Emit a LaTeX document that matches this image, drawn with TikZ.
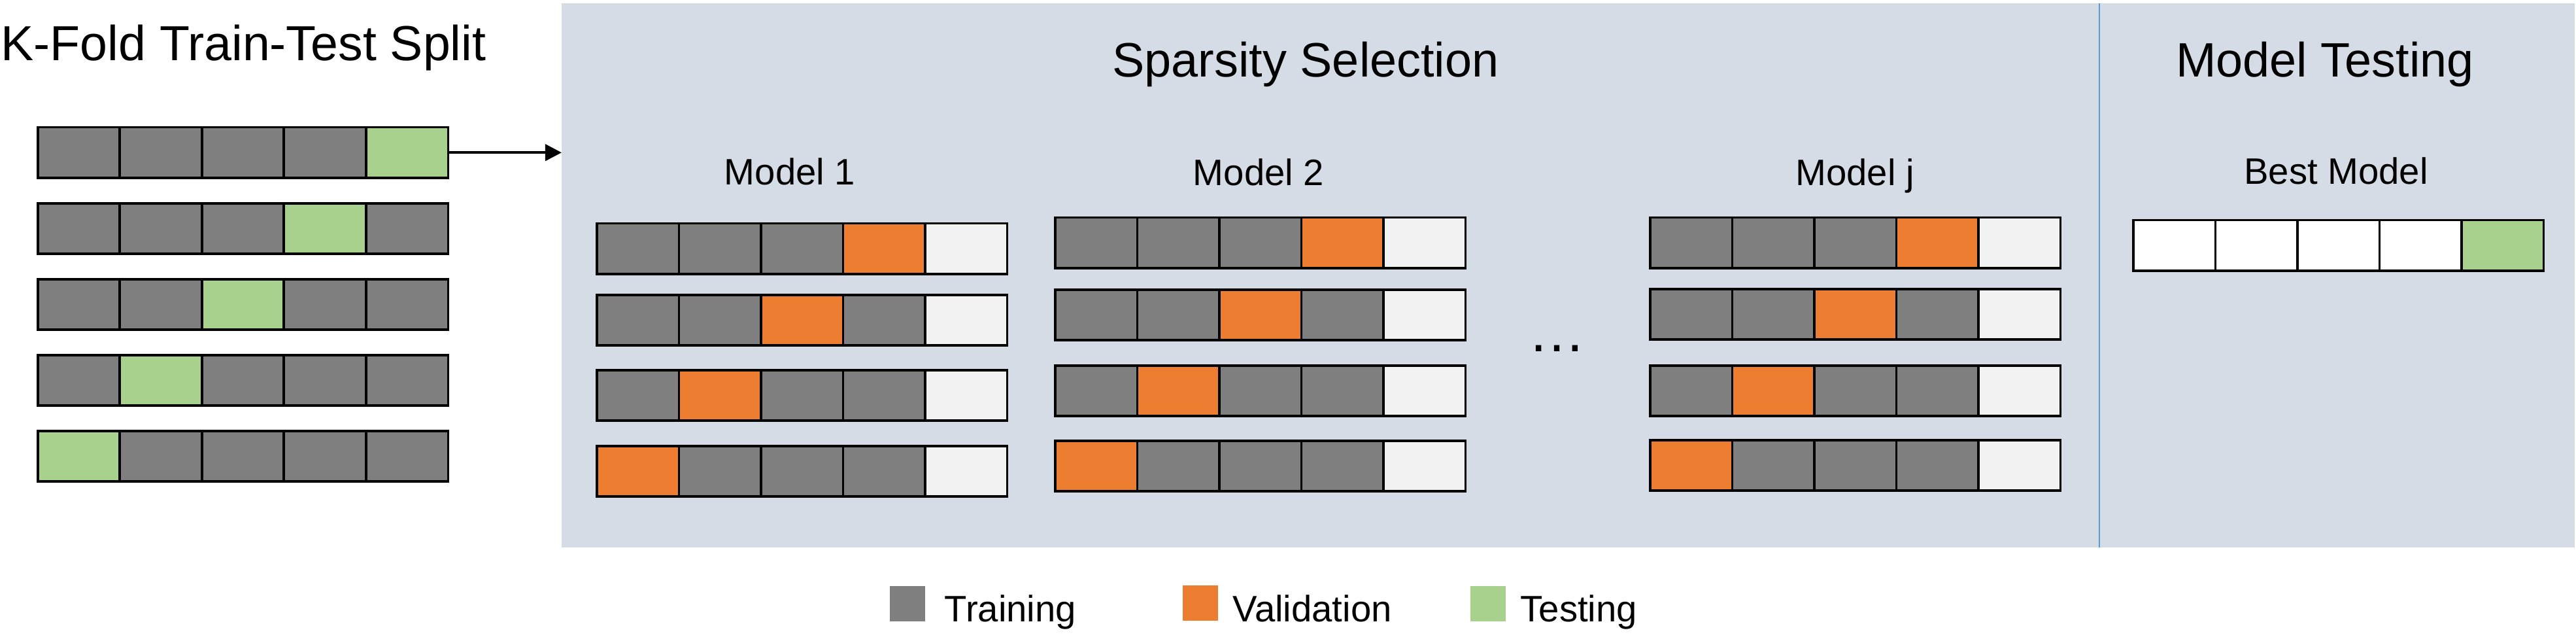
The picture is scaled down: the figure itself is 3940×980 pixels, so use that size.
\documentclass[tikz,border=0pt]{standalone}
\usepackage{fontspec}
\setmainfont{Liberation Sans}
\usetikzlibrary{arrows.meta}
\definecolor{trainc}{HTML}{7F7F7F}
\definecolor{valc}{HTML}{ED7D31}
\definecolor{testc}{HTML}{A9D18E}
\definecolor{restc}{HTML}{F2F2F2}
\definecolor{panelc}{HTML}{D6DCE5}
\definecolor{divc}{HTML}{5B9BD5}
\newcommand\cellrow[4]{%
  \foreach \c [count=\i] in {#4} {
    \node[cell, fill=\c] (#1c\i) at ({#2+(\i-1)*125.5},{#3}) {};
  }}
\begin{document}
\begin{tikzpicture}[x=0.01cm, y=-0.01cm,
  cell/.style={draw=black, line width=1pt, minimum width=1.255cm, minimum height=0.77cm,
    inner sep=0pt, outer sep=0pt, anchor=north west},
  panelbox/.style={fill=panelc, draw=none, inner sep=0pt, outer sep=0pt},
  titletext/.style={font=\fontsize{21}{25}\selectfont, inner sep=0pt},
  bigtitle/.style={font=\fontsize{21.4}{25}\selectfont, inner sep=0pt},
  labtext/.style={font=\fontsize{16}{19}\selectfont, inner sep=0pt},
  dotstext/.style={font=\fontsize{25}{30}\selectfont, inner sep=0pt},
  legbox/.style={draw=none, minimum width=0.54cm, minimum height=0.54cm, inner sep=0pt, anchor=north west},
  arr/.style={line width=1.2pt, -{Triangle[length=0.25cm, width=0.25cm]}},
  divline/.style={draw=divc, line width=0.45pt}]
\useasboundingbox (0,0) rectangle (3940,980);
% background panel
\node[panelbox, anchor=north west, minimum width=30.77cm, minimum height=8.32cm] (panel) at (859,5) {};
\coordinate (divtop) at (3211,5);
\coordinate (divbot) at (3211,837);
\draw[divline] (divtop) -- (divbot);
% titles
\node[bigtitle, anchor=base west] (t1) at (1,93) {K-Fold Train-Test Split};
\node[titletext, anchor=base] (t2) at (1997,118) {Sparsity Selection};
\node[titletext, anchor=base] (t3) at (3556,118) {Model Testing};
% left folds
\cellrow{La}{57.75}{194.75}{trainc,trainc,trainc,trainc,testc}
\cellrow{Lb}{57.75}{310.85}{trainc,trainc,trainc,testc,trainc}
\cellrow{Lc}{57.75}{426.95}{trainc,trainc,testc,trainc,trainc}
\cellrow{Ld}{57.75}{543.05}{trainc,testc,trainc,trainc,trainc}
\cellrow{Le}{57.75}{659.15}{testc,trainc,trainc,trainc,trainc}
% arrow
\draw[arr] (Lac5.east) -- (Lac5.east -| panel.west);
% model labels
\node[labtext, anchor=base] (m1) at (1208,283) {Model 1};
\node[labtext, anchor=base] (m2) at (1925,284) {Model 2};
\node[labtext, anchor=base] (mj) at (2837,284) {Model j};
\node[labtext, anchor=base] (bm) at (3573,282) {Best Model};
% model 1
\cellrow{Aa}{912.75}{341.75}{trainc,trainc,trainc,valc,restc}
\cellrow{Ab}{912.75}{450.75}{trainc,trainc,valc,trainc,restc}
\cellrow{Ac}{912.75}{565.75}{trainc,valc,trainc,trainc,restc}
\cellrow{Ad}{912.75}{681.75}{valc,trainc,trainc,trainc,restc}
% model 2
\cellrow{Ba}{1613.75}{332.75}{trainc,trainc,trainc,valc,restc}
\cellrow{Bb}{1613.75}{442.75}{trainc,trainc,valc,trainc,restc}
\cellrow{Bc}{1613.75}{558.75}{trainc,valc,trainc,trainc,restc}
\cellrow{Bd}{1613.75}{673.75}{valc,trainc,trainc,trainc,restc}
% dots
\node[dotstext, anchor=base] (dd) at (2381,538) {…};
% model j
\cellrow{Ja}{2523.75}{332.75}{trainc,trainc,trainc,valc,restc}
\cellrow{Jb}{2523.75}{441.75}{trainc,trainc,valc,trainc,restc}
\cellrow{Jc}{2523.75}{558.75}{trainc,valc,trainc,trainc,restc}
\cellrow{Jd}{2523.75}{672.75}{valc,trainc,trainc,trainc,restc}
% best model
\cellrow{Best}{3262.75}{336.75}{white,white,white,white,testc}
% legend
\node[legbox, fill=trainc] (lg1) at (1360,895) {};
\node[labtext, anchor=base west] (lt1) at (1444,950) {Training};
\node[legbox, fill=valc] (lg2) at (1808,894) {};
\node[labtext, anchor=base west] (lt2) at (1885,950) {Validation};
\node[legbox, fill=testc] (lg3) at (2248,895) {};
\node[labtext, anchor=base west] (lt3) at (2325,950) {Testing};
\end{tikzpicture}
\end{document}
